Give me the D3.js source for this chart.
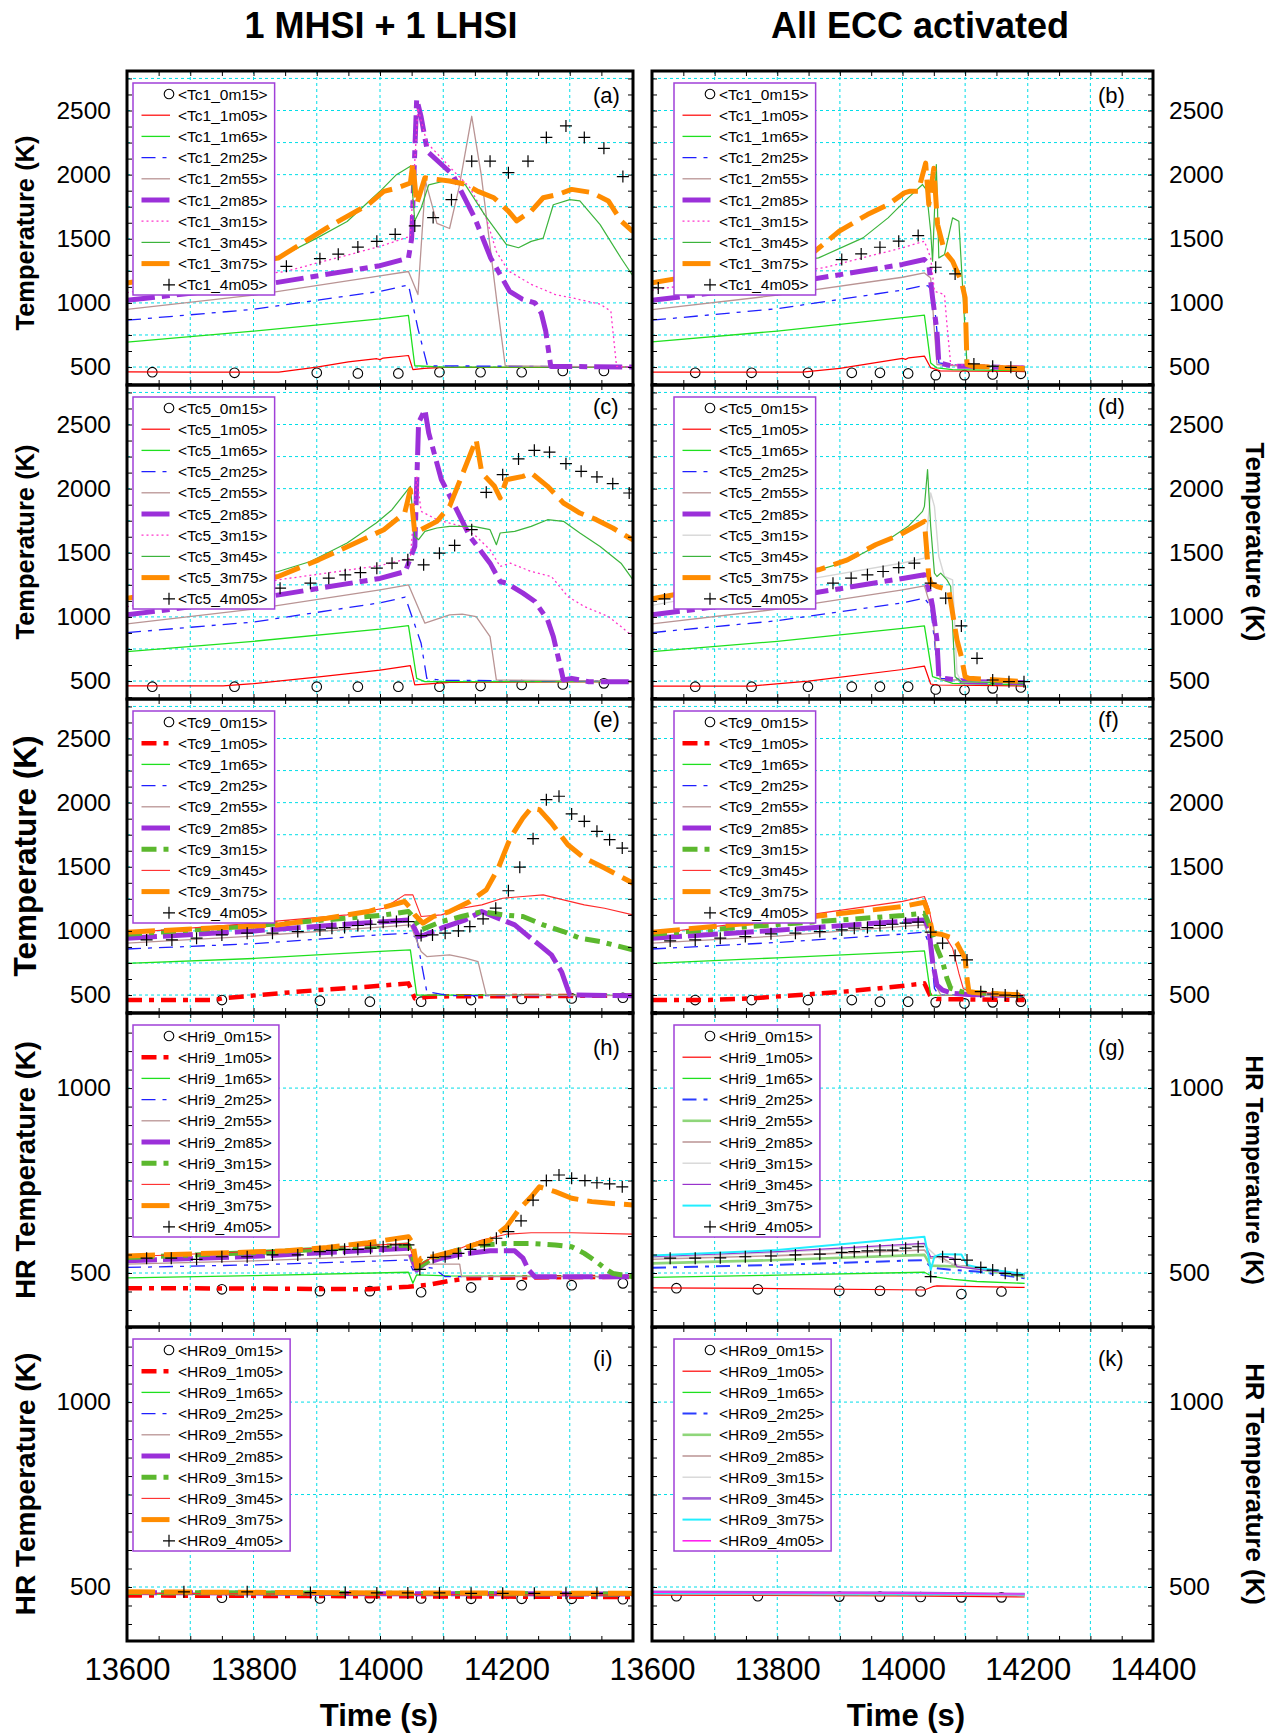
<!DOCTYPE html>
<html lang="en">
<head>
<meta charset="UTF-8">
<title>Tc / HR temperatures</title>
<script src="https://cdn.jsdelivr.net/npm/d3@7"></script>
<style>
  body { margin: 0; background: #fff; }
  svg text { font-family: "Liberation Sans", Arial, sans-serif; }
  .grid line { stroke: #00dde8; stroke-width: 1; stroke-dasharray: 3,3; }
  .minor .domain { display: none; }
  .minor line { stroke: #000; stroke-width: 1; }
  .lab .domain { display: none; }
</style>
</head>
<body>
<div id="container"></div>
<script>
// probe names (legend order)
var probes = ["0m15","1m05","1m65","2m25","2m55","2m85","3m15","3m45","3m75","4m05"];
var timeTicksLeft = [13600,13800,14000,14200];
var timeTicksRight = [13600,13800,14000,14200,14400];
var tcTicks = [500,1000,1500,2000,2500];
var hrTicks = [500,1000];

// ---- (a) Tc1, 1 MHSI + 1 LHSI
var a0m15 = [[13640,460],[13770,455],[13900,455],[13965,450],[14029,450],[14094,460],[14159,460],[14224,460],[14289,470],[14354,470]];
var a1m05 = [[13600,462],[13700,460],[13840,460],[13900,500],[13950,540],[13995,565],[14000,558],[14005,570],[14045,590],[14052,480],[14070,490],[14100,497],[14400,500]];
var a1m65 = [[13600,695],[13800,780],[14000,875],[14045,902],[14055,510],[14100,500],[14400,500]];
var a2m25 = [[13600,865],[13800,950],[14000,1090],[14045,1140],[14060,800],[14075,510],[14400,500]];
var a2m55 = [[13600,950],[13800,1060],[14000,1210],[14045,1245],[14060,1065],[14072,1950],[14090,1620],[14110,1580],[14125,1900],[14145,2455],[14160,2000],[14185,1000],[14198,510],[14400,500]];
var a2m85 = [[13600,1020],[13800,1130],[14000,1290],[14045,1350],[14050,1500],[14058,2590],[14065,2450],[14075,2180],[14115,2000],[14150,1660],[14175,1350],[14205,1090],[14225,1030],[14245,1000],[14255,920],[14262,780],[14270,505],[14400,500]];
var a3m15 = [[13600,1080],[13700,1150],[13850,1245],[14000,1440],[14048,1520],[14060,2520],[14074,2250],[14116,2030],[14142,1900],[14168,1660],[14184,1400],[14203,1250],[14239,1145],[14277,1065],[14303,1040],[14348,990],[14365,935],[14374,505],[14400,500]];
var a3m45 = [[13600,1150],[13700,1220],[13839,1350],[13900,1505],[13948,1635],[14000,1870],[14026,2000],[14048,2065],[14055,1640],[14065,1740],[14077,1920],[14110,1960],[14135,1920],[14165,1690],[14200,1455],[14219,1430],[14239,1480],[14258,1505],[14274,1765],[14300,1805],[14316,1795],[14348,1610],[14381,1350],[14400,1210]];
var a3m75 = [[13600,1155],[13700,1240],[13839,1350],[13916,1585],[13948,1675],[13981,1765],[14006,1870],[14026,1895],[14048,1935],[14052,2090],[14058,1770],[14071,1975],[14110,1950],[14135,1925],[14155,1870],[14180,1820],[14203,1715],[14216,1640],[14239,1715],[14258,1820],[14281,1845],[14303,1885],[14335,1860],[14361,1795],[14381,1640],[14400,1555]];
var a4m05 = [[13620,1140],[13680,1180],[13740,1220],[13800,1255],[13852,1285],[13905,1345],[13934,1380],[13965,1435],[13995,1480],[14024,1535],[14055,1600],[14084,1665],[14113,1805],[14145,2105],[14174,2105],[14203,2015],[14234,2105],[14263,2290],[14294,2380],[14323,2290],[14354,2205],[14384,1985]];

// ---- (b) Tc1, all ECC
var b0m15 = [[13669,455],[13759,455],[13849,455],[13919,455],[13964,455],[14009,450],[14053,437],[14099,437],[14144,442],[14189,447]];
var b1m05 = [[13600,460],[13840,460],[13900,490],[14000,568],[14005,560],[14010,572],[14035,585],[14045,495],[14060,470],[14195,465]];
var b1m65 = [[13600,696],[13800,780],[14000,885],[14035,904],[14045,532],[14055,493],[14080,480],[14195,472]];
var b2m25 = [[13600,865],[13800,955],[14000,1100],[14035,1138],[14042,1130],[14051,985],[14055,780],[14058,532],[14100,506],[14195,500]];
var b2m55 = [[13600,948],[13800,1060],[14000,1200],[14035,1234],[14045,1195],[14051,780],[14055,520],[14100,506],[14195,500]];
var b2m85 = [[13600,1020],[13800,1140],[14000,1300],[14035,1338],[14042,1300],[14048,1040],[14055,780],[14058,532],[14081,506],[14106,506],[14195,493]];
var b3m15 = [[13600,1100],[13700,1170],[13873,1273],[14000,1430],[14035,1481],[14045,1351],[14051,1091],[14067,1065],[14071,830],[14077,519],[14195,506]];
var b3m45 = [[13600,1150],[13700,1230],[13866,1351],[13937,1507],[13977,1663],[14009,1819],[14032,1923],[14038,1884],[14045,1559],[14048,1325],[14054,2079],[14058,1351],[14067,1377],[14080,1663],[14090,1637],[14100,779],[14103,519],[14195,493]];
var b3m75 = [[13600,1156],[13700,1240],[13860,1403],[13899,1559],[13944,1689],[13977,1767],[14003,1858],[14012,1871],[14025,1870],[14037,2090],[14042,1767],[14050,2050],[14056,1611],[14067,1403],[14080,1325],[14094,1169],[14100,1039],[14103,519],[14113,506],[14195,488]];
var b4m05 = [[13610,1117],[13660,1150],[13720,1195],[13780,1240],[13840,1290],[13903,1338],[13934,1382],[13964,1434],[13994,1481],[14025,1525],[14053,1278],[14084,1226],[14114,524],[14144,506],[14173,498]];

// ---- (c) Tc5, 1 MHSI + 1 LHSI
var c0m15 = [[13640,456],[13770,456],[13900,456],[13965,456],[14029,456],[14094,456],[14159,461],[14224,469],[14289,474],[14354,482]];
var c1m05 = [[13600,462],[13752,462],[13800,480],[13900,530],[14000,585],[14048,620],[14055,470],[14110,490],[14400,495]];
var c1m65 = [[13600,729],[13800,810],[14000,905],[14045,932],[14058,521],[14071,495],[14400,495]];
var c2m25 = [[13600,878],[13800,960],[14000,1110],[14040,1154],[14065,794],[14074,521],[14100,505],[14400,500]];
var c2m55 = [[13600,945],[13800,1060],[14000,1210],[14045,1250],[14071,951],[14110,1016],[14130,1021],[14152,1003],[14174,846],[14184,508],[14400,500]];
var c2m85 = [[13600,1016],[13800,1140],[14000,1300],[14040,1354],[14055,1550],[14061,2513],[14071,2617],[14077,2435],[14097,2070],[14116,1888],[14142,1628],[14174,1419],[14190,1276],[14200,1263],[14226,1185],[14245,1120],[14265,977],[14274,847],[14284,638],[14290,508],[14303,521],[14330,495],[14400,495]];
var c3m15 = [[13600,1080],[13700,1160],[13839,1289],[14000,1400],[14048,1458],[14058,2096],[14065,1823],[14090,1758],[14129,1706],[14152,1628],[14174,1523],[14190,1393],[14206,1419],[14239,1354],[14271,1315],[14297,1159],[14323,1081],[14361,1003],[14381,925],[14400,846]];
var c3m45 = [[13600,1150],[13700,1230],[13839,1354],[13890,1432],[13948,1576],[13994,1732],[14019,1836],[14048,2018],[14055,1628],[14061,1602],[14071,1667],[14090,1693],[14110,1706],[14148,1706],[14174,1680],[14184,1563],[14190,1654],[14213,1667],[14239,1706],[14265,1758],[14290,1745],[14316,1654],[14348,1549],[14381,1419],[14400,1289]];
var c3m75 = [[13600,1146],[13700,1220],[13839,1315],[13903,1445],[13961,1576],[14006,1680],[14039,1810],[14048,1992],[14055,1654],[14065,1680],[14090,1745],[14110,1862],[14129,2096],[14152,2383],[14161,2122],[14181,2018],[14190,1927],[14200,2070],[14226,2096],[14239,2122],[14265,2018],[14290,1888],[14316,1810],[14342,1758],[14368,1693],[14400,1600]];
var c4m05 = [[13620,1130],[13680,1160],[13740,1190],[13800,1210],[13842,1224],[13890,1263],[13919,1302],[13945,1328],[13969,1346],[13995,1380],[14019,1419],[14044,1445],[14069,1406],[14094,1497],[14118,1557],[14145,1680],[14168,1971],[14194,2109],[14219,2232],[14244,2299],[14268,2284],[14294,2195],[14318,2135],[14343,2091],[14368,2039],[14394,1966]];

// ---- (d) Tc5, all ECC
var d0m15 = [[13669,456],[13759,456],[13849,456],[13919,456],[13964,456],[14009,456],[14053,435],[14099,430],[14144,443],[14189,450]];
var d1m05 = [[13600,461],[13759,461],[13850,500],[14000,590],[14035,617],[14045,477],[14055,469],[14195,461]];
var d1m65 = [[13600,729],[13800,810],[14000,910],[14035,930],[14048,534],[14080,482],[14195,469]];
var d2m25 = [[13600,878],[13800,970],[14000,1110],[14035,1146],[14045,1081],[14055,638],[14061,521],[14195,495]];
var d2m55 = [[13600,945],[13800,1060],[14000,1210],[14035,1242],[14048,1029],[14055,650],[14061,510],[14195,500]];
var d2m85 = [[13600,1016],[13800,1140],[14000,1300],[14035,1328],[14045,1159],[14048,1081],[14055,820],[14058,534],[14067,521],[14106,495],[14195,487]];
var d3m15 = [[13600,1090],[13700,1180],[13860,1302],[14000,1420],[14035,1458],[14045,1966],[14051,1862],[14058,1471],[14067,1315],[14080,1289],[14087,560],[14094,495],[14195,490]];
var d3m45 = [[13600,1150],[13700,1240],[13866,1367],[13912,1432],[13977,1602],[14009,1706],[14032,1823],[14035,1862],[14040,2148],[14045,1706],[14051,1341],[14055,1315],[14061,1341],[14071,1289],[14077,1237],[14084,534],[14094,495],[14195,482]];
var d3m75 = [[13600,1141],[13700,1230],[13866,1367],[13912,1445],[13957,1563],[13996,1641],[14035,1745],[14042,1315],[14045,1263],[14055,1237],[14074,1211],[14080,1029],[14087,820],[14094,690],[14100,534],[14106,521],[14195,495]];
var d4m05 = [[13620,1140],[13680,1170],[13740,1200],[13800,1225],[13850,1245],[13889,1263],[13918,1302],[13944,1328],[13969,1354],[13994,1385],[14019,1419],[14045,1263],[14069,1146],[14094,930],[14119,677],[14144,508],[14170,495],[14194,495]];

// ---- (e) Tc9, 1 MHSI + 1 LHSI
var e0m15 = [[13750,461],[13905,456],[13984,448],[14065,448],[14144,461],[14224,469],[14303,474],[14384,479]];
var e1m05 = [[13600,461],[13740,462],[13750,474],[13839,513],[13903,539],[13981,565],[14045,591],[14055,474],[14077,487],[14110,490],[14400,495]];
var e1m65 = [[13600,747],[13800,785],[14000,840],[14048,852],[14058,500],[14400,497]];
var e2m25 = [[13600,859],[13800,900],[14000,970],[14048,982],[14058,943],[14068,682],[14074,526],[14110,495],[14400,495]];
var e2m55 = [[13600,904],[13800,960],[14000,1030],[14048,1047],[14065,839],[14074,800],[14110,813],[14135,787],[14155,761],[14168,500],[14400,495]];
var e2m85 = [[13600,943],[13800,1000],[14000,1070],[14045,1086],[14052,1047],[14061,956],[14071,969],[14097,1021],[14135,1086],[14161,1151],[14174,1125],[14213,1047],[14232,969],[14252,891],[14271,813],[14287,682],[14300,500],[14400,495]];
var e3m15 = [[13600,974],[13800,1040],[14000,1120],[14045,1151],[14052,1112],[14065,1008],[14097,1073],[14129,1112],[14161,1151],[14194,1125],[14226,1112],[14258,1047],[14290,995],[14316,943],[14348,917],[14400,852]];
var e3m45 = [[13600,985],[13800,1060],[13948,1125],[14006,1177],[14039,1281],[14052,1281],[14065,1112],[14097,1125],[14129,1177],[14161,1203],[14194,1255],[14226,1268],[14258,1281],[14290,1242],[14323,1203],[14355,1177],[14400,1125]];
var e3m75 = [[13600,990],[13839,1047],[13916,1099],[13981,1151],[14039,1229],[14048,1177],[14055,1125],[14068,1060],[14084,1112],[14110,1151],[14142,1229],[14168,1320],[14187,1490],[14206,1724],[14226,1880],[14239,1958],[14252,1945],[14271,1841],[14297,1672],[14323,1568],[14355,1490],[14400,1372]];
var e4m05 = [[13631,930],[13671,930],[13710,943],[13750,969],[13790,982],[13830,982],[13870,995],[13905,1008],[13924,1021],[13944,1026],[13965,1042],[13985,1052],[14005,1068],[14026,1073],[14045,1073],[14065,964],[14083,969],[14103,982],[14124,1000],[14142,1034],[14163,1094],[14183,1177],[14203,1313],[14221,1497],[14242,1719],[14263,2023],[14283,2050],[14303,1912],[14323,1854],[14343,1776],[14363,1711],[14383,1646]];

// ---- (f) Tc9, all ECC
var f0m15 = [[13669,461],[13759,461],[13849,461],[13919,461],[13964,448],[14009,448],[14053,443],[14099,435],[14144,443],[14189,448]];
var f1m05 = [[13600,461],[13690,461],[13759,474],[13847,505],[13918,531],[14003,573],[14035,591],[14045,487],[14055,469],[14195,461]];
var f1m65 = [[13600,747],[13800,790],[14000,835],[14035,844],[14045,500],[14195,495]];
var f2m25 = [[13600,859],[13800,910],[14000,975],[14035,990],[14045,865],[14051,552],[14058,500],[14195,495]];
var f2m55 = [[13600,904],[13800,960],[14000,1035],[14035,1047],[14048,865],[14055,560],[14061,500],[14195,495]];
var f2m85 = [[13600,943],[13800,1005],[14000,1075],[14035,1086],[14042,1021],[14048,761],[14055,578],[14064,539],[14080,513],[14106,505],[14195,495]];
var f3m15 = [[13600,974],[13800,1050],[14000,1120],[14035,1138],[14045,1021],[14055,865],[14064,761],[14071,630],[14077,552],[14094,526],[14195,495]];
var f3m45 = [[13600,980],[13800,1090],[14000,1230],[14035,1268],[14042,1177],[14051,969],[14067,969],[14080,865],[14090,670],[14097,552],[14106,526],[14195,500]];
var f3m75 = [[13600,990],[13800,1080],[14000,1190],[14035,1224],[14042,1125],[14048,982],[14061,974],[14080,943],[14087,904],[14094,839],[14100,787],[14103,630],[14106,526],[14120,518],[14195,500]];
var f4m05 = [[13629,922],[13669,930],[13709,943],[13749,956],[13790,977],[13829,982],[13868,995],[13903,1008],[13923,1021],[13944,1026],[13964,1042],[13984,1052],[14005,1060],[14025,1068],[14045,990],[14064,904],[14084,808],[14103,774],[14125,526],[14144,508],[14164,500],[14183,495]];

// ---- (h) Hri9, 1 MHSI + 1 LHSI
var h0m15 = [[13750,456],[13905,451],[13984,451],[14065,448],[14144,461],[14224,467],[14303,467],[14384,472]];
var h1m05 = [[13600,459],[13800,458],[13984,456],[14045,463],[14077,468],[14110,479],[14142,486],[14174,487],[14400,490]];
var h1m65 = [[13600,487],[13800,493],[14045,502],[14052,472],[14058,495],[14110,492],[14400,490]];
var h2m25 = [[13600,515],[13800,522],[14045,535],[14052,508],[14065,517],[14084,513],[14103,490],[14400,490]];
var h2m55 = [[13600,524],[13800,533],[14045,549],[14052,517],[14065,524],[14126,524],[14129,490],[14400,490]];
var h2m85 = [[13600,533],[13800,545],[14045,567],[14058,508],[14071,526],[14097,540],[14123,549],[14148,555],[14174,560],[14213,560],[14226,540],[14235,508],[14245,490],[14400,490]];
var h3m15 = [[13600,542],[13800,555],[14045,576],[14058,513],[14084,540],[14123,562],[14161,576],[14200,580],[14239,580],[14277,576],[14303,571],[14323,553],[14342,531],[14355,513],[14368,499],[14400,490]];
var h3m45 = [[13600,544],[13800,558],[14045,580],[14058,517],[14084,544],[14123,564],[14161,589],[14200,605],[14239,609],[14303,609],[14400,605]];
var h3m75 = [[13600,546],[13852,560],[13916,569],[13981,582],[14045,598],[14052,580],[14058,517],[14065,540],[14084,544],[14123,562],[14148,576],[14174,589],[14200,625],[14219,670],[14239,706],[14252,733],[14277,720],[14303,702],[14335,693],[14368,688],[14400,684]];
var h4m05 = [[13631,540],[13670,540],[13710,537],[13750,544],[13790,544],[13830,549],[13870,549],[13905,558],[13924,561],[13944,564],[13965,564],[13985,567],[14005,571],[14025,576],[14045,576],[14063,510],[14084,542],[14103,544],[14124,553],[14143,564],[14165,576],[14184,594],[14203,612],[14223,641],[14242,697],[14263,750],[14283,765],[14303,756],[14324,750],[14343,744],[14363,741],[14383,733]];

// ---- (g) Hri9, all ECC
var g0m15 = [[13639,459],[13769,456],[13899,452],[13964,452],[14029,450],[14094,443],[14158,450]];
var g1m05 = [[13600,460],[13800,458],[14035,454],[14048,463],[14055,465],[14195,461]];
var g1m65 = [[13600,488],[13800,494],[14035,502],[14048,490],[14081,483],[14119,477],[14195,472]];
var g2m25 = [[13600,514],[13800,522],[14035,535],[14045,517],[14055,513],[14081,508],[14119,504],[14195,486]];
var g2m55 = [[13600,526],[13800,535],[14035,549],[14045,520],[14100,517],[14195,490]];
var g2m85 = [[13600,537],[13800,547],[14035,562],[14045,540],[14061,544],[14081,522],[14195,495]];
var g3m15 = [[13600,541],[13800,555],[14035,576],[14055,544],[14067,531],[14106,513],[14195,495]];
var g3m45 = [[13600,544],[13800,558],[14035,580],[14045,544],[14055,546],[14081,540],[14087,517],[14106,513],[14195,495]];
var g3m75 = [[13600,547],[13800,562],[14035,598],[14042,540],[14045,508],[14051,544],[14061,551],[14094,550],[14103,522],[14126,513],[14195,497]];
var g4m05 = [[13629,540],[13669,540],[13709,541],[13749,544],[13790,546],[13829,549],[13868,551],[13903,556],[13923,558],[13944,560],[13964,562],[13984,562],[14005,567],[14025,571],[14045,490],[14064,544],[14084,537],[14103,535],[14125,515],[14144,508],[14164,499],[14183,495]];

// ---- (i) HRo9, 1 MHSI + 1 LHSI
var i0m15 = [[13750,471],[13905,469],[13984,470],[14065,469],[14144,468],[14224,468],[14303,468],[14384,467]];
var i1m05 = [[13600,477],[14000,475],[14400,473]];
var i1m65 = [[13600,481],[14000,479],[14400,478]];
var i2m25 = [[13600,483],[14000,481],[14400,479]];
var i2m55 = [[13600,484],[14000,482],[14400,480]];
var i2m85 = [[13600,485],[14000,482],[14400,481]];
var i3m15 = [[13600,485],[14000,483],[14400,481]];
var i3m45 = [[13600,483],[14000,480],[14400,478]];
var i3m75 = [[13600,487],[14000,484],[14400,483]];
var i4m05 = [[13690,487],[13790,487],[13890,485],[13945,485],[13995,484],[14044,484],[14094,484],[14144,483],[14194,483],[14244,483],[14294,483],[14343,483]];

// ---- (k) HRo9, all ECC
var k0m15 = [[13639,475],[13769,475],[13899,474],[13964,474],[14029,473],[14094,472],[14158,472]];
var k1m05 = [[13600,478],[14000,476],[14195,473]];
var k1m65 = [[13600,481],[14000,479],[14195,477]];
var k2m25 = [[13600,482],[14000,480],[14195,478]];
var k2m55 = [[13600,483],[14000,481],[14195,479]];
var k2m85 = [[13600,481],[14000,479],[14195,477]];
var k3m15 = [[13600,483],[14000,481],[14195,479]];
var k3m45 = [[13600,487],[14000,484],[14195,481]];
var k3m75 = [[13600,484],[14000,482],[14195,480]];
var k4m05 = [[13600,486],[14000,483],[14195,481]];

// line styles
var ST = {
  circ:   {m: "o"},
  plus:   {m: "+"},
  red:    {c: "#ff0000", w: 1.2},
  redDD:  {c: "#ff0000", w: 4.5, d: "15,7,5,7"},
  redT:   {c: "#ff2a2a", w: 1.1},
  lime:   {c: "#1fe01f", w: 1.3},
  blueDD: {c: "#1f1fff", w: 1.3, d: "14,7,4,7"},
  blueD2: {c: "#2a3cff", w: 2, d: "14,7,4,7"},
  rosy:   {c: "#b99494", w: 1.3},
  rosy2:  {c: "#bf9a9a", w: 1.6},
  purpDD: {c: "#9b30d9", w: 5, d: "28,7,8,7"},
  purp:   {c: "#9b30d9", w: 5, d: "30,6"},
  mag:    {c: "#ff33cc", w: 1.3, d: "2,3"},
  green:  {c: "#3cb43c", w: 1.2},
  greenDD:{c: "#5cb82e", w: 5, d: "15,7,5,7"},
  orange: {c: "#ff8c00", w: 5, d: "28,9"},
  gray:   {c: "#d6d6d6", w: 1.4},
  lgreen: {c: "#8fd67a", w: 2.6},
  violet: {c: "#9933cc", w: 1.2},
  violet2:{c: "#a060d8", w: 2.6},
  cyan:   {c: "#22eeff", w: 2},
  magLine:{c: "#ff22ee", w: 1.6}
};
var styA = ["circ","red","lime","blueDD","rosy","purpDD","mag","green","orange","plus"];
var styD = ["circ","red","lime","blueDD","rosy","purpDD","gray","green","orange","plus"];
var styE = ["circ","redDD","lime","blueDD","rosy","purp","greenDD","redT","orange","plus"];
var styG = ["circ","red","lime","blueD2","lgreen","rosy2","gray","violet","cyan","plus"];
var styK = ["circ","red","lime","blueD2","lgreen","rosy2","gray","violet2","cyan","magLine"];

var TC = [360, 2808], HR = [354, 1203];

var panels = [
  {id:"a", col:0, row:0, pre:"Tc1", y:TC, sty:styA, title:"Temperature (K)", ts:25.5, data:[a0m15,a1m05,a1m65,a2m25,a2m55,a2m85,a3m15,a3m45,a3m75,a4m05]},
  {id:"b", col:1, row:0, pre:"Tc1", y:TC, sty:styA, title:null, data:[b0m15,b1m05,b1m65,b2m25,b2m55,b2m85,b3m15,b3m45,b3m75,b4m05]},
  {id:"c", col:0, row:1, pre:"Tc5", y:TC, sty:styA, title:"Temperature (K)", ts:25.5, data:[c0m15,c1m05,c1m65,c2m25,c2m55,c2m85,c3m15,c3m45,c3m75,c4m05]},
  {id:"d", col:1, row:1, pre:"Tc5", y:TC, sty:styD, title:"Temperature (K)", ts:26, data:[d0m15,d1m05,d1m65,d2m25,d2m55,d2m85,d3m15,d3m45,d3m75,d4m05]},
  {id:"e", col:0, row:2, pre:"Tc9", y:TC, sty:styE, title:"Temperature (K)", ts:31.5, data:[e0m15,e1m05,e1m65,e2m25,e2m55,e2m85,e3m15,e3m45,e3m75,e4m05]},
  {id:"f", col:1, row:2, pre:"Tc9", y:TC, sty:styE, title:null, data:[f0m15,f1m05,f1m65,f2m25,f2m55,f2m85,f3m15,f3m45,f3m75,f4m05]},
  {id:"h", col:0, row:3, pre:"Hri9", y:HR, sty:styE, title:"HR Temperature (K)", ts:27.5, data:[h0m15,h1m05,h1m65,h2m25,h2m55,h2m85,h3m15,h3m45,h3m75,h4m05]},
  {id:"g", col:1, row:3, pre:"Hri9", y:HR, sty:styG, title:"HR Temperature (K)", ts:24.5, data:[g0m15,g1m05,g1m65,g2m25,g2m55,g2m85,g3m15,g3m45,g3m75,g4m05]},
  {id:"i", col:0, row:4, pre:"HRo9", y:HR, sty:styE, title:"HR Temperature (K)", ts:28, data:[i0m15,i1m05,i1m65,i2m25,i2m55,i2m85,i3m15,i3m45,i3m75,i4m05]},
  {id:"k", col:1, row:4, pre:"HRo9", y:HR, sty:styK, title:"HR Temperature (K)", ts:25.8, data:[k0m15,k1m05,k1m65,k2m25,k2m55,k2m85,k3m15,k3m45,k3m75,k4m05]}
];

// layout
var colX = [127, 652], colW = [506, 501];
var rowTop = 71, rowH = 314;
var labelBase = [32, 29, 28, 42, 39];

var svg = d3.select("#container").append("svg")
  .attr("width", 1279).attr("height", 1736);

// column titles
svg.append("text").attr("x", 381).attr("y", 38).attr("text-anchor", "middle")
  .style("font-size", "36px").style("font-weight", "bold").text("1 MHSI + 1 LHSI");
svg.append("text").attr("x", 920).attr("y", 38).attr("text-anchor", "middle")
  .style("font-size", "36px").style("font-weight", "bold").text("All ECC activated");

var defs = svg.append("defs");

function drawMarker(g, type, cx, cy) {
  if (type === "o") {
    g.append("circle").attr("cx", cx).attr("cy", cy).attr("r", 4.8)
      .attr("fill", "none").attr("stroke", "#000").attr("stroke-width", 1.1);
  } else {
    g.append("path").attr("d", "M" + (cx - 6) + "," + cy + "H" + (cx + 6) + "M" + cx + "," + (cy - 6) + "V" + (cy + 6))
      .attr("stroke", "#000").attr("stroke-width", 1.2);
  }
}

panels.forEach(function(p) {
  var x0 = colX[p.col], w = colW[p.col];
  var y0 = rowTop + p.row * rowH, h = rowH;
  var isTc = p.y === TC;

  var x = d3.scaleLinear().domain([13600, 14400]).range([x0, x0 + w]);
  var y = d3.scaleLinear().domain(p.y).range([y0 + h, y0]);

  defs.append("clipPath").attr("id", "clip-" + p.id)
    .append("rect").attr("x", x0).attr("y", y0).attr("width", w).attr("height", h);

  var g = svg.append("g");

  // grid
  var grid = g.append("g").attr("class", "grid");
  d3.range(13700, 14400, 100).forEach(function(t) {
    grid.append("line").attr("x1", x(t)).attr("x2", x(t)).attr("y1", y0).attr("y2", y0 + h);
  });
  d3.range(500, p.y[1], 250).forEach(function(v) {
    grid.append("line").attr("x1", x0).attr("x2", x0 + w).attr("y1", y(v)).attr("y2", y(v));
  });

  // series
  var plot = g.append("g").attr("clip-path", "url(#clip-" + p.id + ")");
  var line = d3.line().x(function(d) { return x(d[0]); }).y(function(d) { return y(d[1]); });
  p.data.forEach(function(ser, i) {
    var s = ST[p.sty[i]];
    if (s.m) {
      ser.forEach(function(d) { drawMarker(plot, s.m, x(d[0]), y(d[1])); });
    } else {
      plot.append("path").attr("d", line(ser)).attr("fill", "none")
        .attr("stroke", s.c).attr("stroke-width", s.w)
        .attr("stroke-dasharray", s.d || null).attr("stroke-linejoin", "round");
    }
  });

  // legend
  var lx = x0 + (p.col === 0 ? 6 : 22), ly = y0 + 12;
  var leg = g.append("g");
  var box = leg.append("rect").attr("x", lx).attr("y", ly).attr("height", 212)
    .attr("fill", "#fff").attr("stroke", "#a040d8").attr("stroke-width", 1.5);
  var maxLen = 0;
  probes.forEach(function(pr, i) {
    var ry = ly + 11 + i * 21.2;
    var s = ST[p.sty[i]];
    if (s.m) {
      drawMarker(leg, s.m, lx + 36, ry);
    } else {
      leg.append("line").attr("x1", lx + 8.5).attr("x2", lx + 37).attr("y1", ry).attr("y2", ry)
        .attr("stroke", s.c).attr("stroke-width", s.w).attr("stroke-dasharray", s.d || null);
    }
    var t = leg.append("text").attr("x", lx + 45).attr("y", ry).attr("dy", "0.36em")
      .style("font-size", "15.5px").text("<" + p.pre + "_" + pr + ">");
    maxLen = Math.max(maxLen, t.node().getComputedTextLength());
  });
  box.attr("width", 45 + maxLen + 7);

  // panel letter
  g.append("text").attr("x", x0 + (p.col === 0 ? 466 : 446)).attr("y", y0 + labelBase[p.row])
    .style("font-size", "22px").text("(" + p.id + ")");

  // minor ticks on the frame
  var step = isTc ? 125 : 50;
  var xm = d3.range(13600, 14401, 50);
  var ym = d3.range(Math.ceil(p.y[0] / step) * step, p.y[1], step);
  g.append("g").attr("class", "minor").attr("transform", "translate(0," + y0 + ")")
    .call(d3.axisTop(x).tickValues(xm).tickSize(-5).tickFormat(""));
  g.append("g").attr("class", "minor").attr("transform", "translate(0," + (y0 + h) + ")")
    .call(d3.axisBottom(x).tickValues(xm).tickSize(-5).tickFormat(""));
  g.append("g").attr("class", "minor").attr("transform", "translate(" + x0 + ",0)")
    .call(d3.axisLeft(y).tickValues(ym).tickSize(-5).tickFormat(""));
  g.append("g").attr("class", "minor").attr("transform", "translate(" + (x0 + w) + ",0)")
    .call(d3.axisRight(y).tickValues(ym).tickSize(-5).tickFormat(""));

  // frame
  g.append("rect").attr("x", x0).attr("y", y0).attr("width", w).attr("height", h)
    .attr("fill", "none").attr("stroke", "#000").attr("stroke-width", 3);

  // y labels
  var yAx = (p.col === 0 ? d3.axisLeft(y) : d3.axisRight(y))
    .tickValues(isTc ? tcTicks : hrTicks).tickSize(0).tickPadding(16).tickFormat(d3.format("d"));
  var ya = g.append("g").attr("class", "lab")
    .attr("transform", "translate(" + (p.col === 0 ? x0 : x0 + w) + ",0)").call(yAx);
  ya.selectAll("text").style("font-size", "24.5px").attr("fill", "#000");

  // y title
  if (p.title) {
    var tx = p.col === 0 ? 25 : 1255, ty = y0 + h / 2 + (p.row === 0 ? 5 : 0);
    g.append("text").attr("transform", "translate(" + tx + "," + ty + ") rotate(" + (p.col === 0 ? -90 : 90) + ")")
      .attr("text-anchor", "middle").attr("dy", "0.36em")
      .style("font-size", p.ts + "px").style("font-weight", "bold").text(p.title);
  }

  // x labels on bottom row
  if (p.row === 4) {
    var xa = g.append("g").attr("class", "lab").attr("transform", "translate(0," + (y0 + h) + ")")
      .call(d3.axisBottom(x).tickValues(p.col === 0 ? timeTicksLeft : timeTicksRight)
        .tickSize(0).tickPadding(17).tickFormat(d3.format("d")));
    xa.selectAll("text").style("font-size", "31px").attr("fill", "#000");
    g.append("text").attr("x", p.col === 0 ? 379 : 906).attr("y", 1726).attr("text-anchor", "middle")
      .style("font-size", "31px").style("font-weight", "bold").text("Time (s)");
  }
});
</script>
</body>
</html>
